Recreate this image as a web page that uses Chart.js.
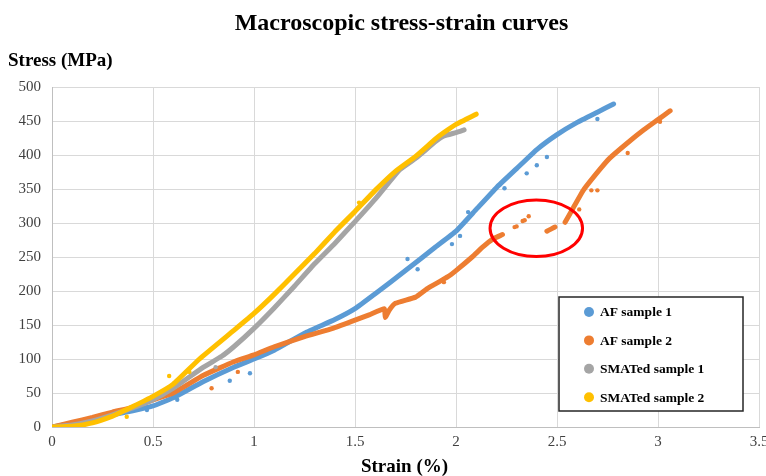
<!DOCTYPE html>
<html><head><meta charset="utf-8">
<script src="https://cdn.jsdelivr.net/npm/chart.js@4/dist/chart.umd.min.js"></script>
<style>html,body{margin:0;padding:0;background:#fff;}canvas{display:block;}</style>
</head><body>
<canvas id="c" width="766" height="476"></canvas>
<script>
// ---- data ----
const chartTitle = 'Macroscopic stress-strain curves';
const xTitle = 'Strain (%)';
const yTitle = 'Stress (MPa)';
const seriesNames = ['AF sample 1', 'AF sample 2', 'SMATed sample 1', 'SMATed sample 2'];
const seriesColors = ['#5B9BD5', '#ED7D31', '#A5A5A5', '#FFC000'];

const af1Strain = [0, 0.1, 0.2, 0.3, 0.4, 0.5, 0.6, 0.75, 0.9, 1.0, 1.1, 1.25, 1.4, 1.5, 1.6, 1.75, 1.9, 2.0, 2.1, 2.2, 2.3, 2.4, 2.5, 2.6, 2.7, 2.78];
const af1Stress = [0, 5, 11, 18, 24, 31, 43, 67, 88, 100, 113, 138, 158, 174, 196, 230, 265, 288, 320, 352, 380, 408, 430, 448, 463, 475];

const af2Strain = [0, 0.1, 0.2, 0.3, 0.4, 0.5, 0.6, 0.75, 0.9, 1.0, 1.1, 1.25, 1.39, 1.49, 1.57, 1.645, 1.65, 1.67, 1.7, 1.8, 1.86, 1.96, 2.0, 2.08, 2.13, 2.18, 2.23, null, 2.45, 2.47, 2.49, null, 2.54, 2.58, 2.63, 2.71, 2.76, 2.85, 2.93, 3.0, 3.06];
const af2Stress = [0, 7, 14, 22, 29, 40, 50, 76, 96, 106, 118, 133, 145, 156, 165, 174, 161, 172, 182, 191, 204, 221, 230, 250, 264, 276, 283, null, 288, 291, 294, null, 301, 322, 348, 378, 395, 418, 437, 452, 465];

const sm1Strain = [0, 0.1, 0.2, 0.3, 0.4, 0.5, 0.6, 0.75, 0.84, 0.9, 1.0, 1.1, 1.2, 1.3, 1.4, 1.5, 1.6, 1.72, 1.8, 1.9, 1.94, 2.0, 2.04];
const sm1Stress = [0, 3, 9, 18, 28, 40, 57, 88, 104, 118, 145, 175, 207, 240, 270, 302, 335, 378, 395, 420, 428, 433, 437];

const sm2Strain = [0, 0.1, 0.2, 0.3, 0.35, 0.4, 0.5, 0.6, 0.73, 0.9, 1.0, 1.1, 1.2, 1.3, 1.4, 1.5, 1.6, 1.7, 1.8, 1.9, 1.94, 2.0, 2.1];
const sm2Stress = [0, 1, 6, 16, 23, 30, 45, 63, 100, 142, 167, 195, 225, 255, 287, 317, 348, 376, 398, 424, 433, 445, 460];

// scattered points lying off the main curves
const af1OutStrain = [0.47, 0.62, 0.88, 0.98, 1.76, 1.81, 1.98, 2.02, 2.06, 2.24, 2.35, 2.40, 2.45, 2.70];
const af1OutStress = [25, 40, 68, 79, 247, 232, 269, 281, 316, 351, 373, 385, 397, 453];
const af2OutStrain = [0.79, 0.92, 1.94, 2.29, 2.30, 2.33, 2.34, 2.36, 2.61, 2.67, 2.70, 2.85, 3.01];
const af2OutStress = [57, 81, 213, 294, 295, 303, 304, 310, 320, 348, 348, 403, 449];
const sm1OutStrain = [0.81];
const sm1OutStress = [88];
const sm2OutStrain = [0.37, 0.58, 0.68, 1.52];
const sm2OutStress = [15, 75, 81, 330];

const xTicks = [0, 0.5, 1, 1.5, 2, 2.5, 3, 3.5];
const yTicks = [0, 50, 100, 150, 200, 250, 300, 350, 400, 450, 500];

// highlighted region (data units): centre strain, centre stress, half-width, half-height
const highlightCx = 2.3975, highlightCy = 292.2, highlightRx = 0.229, highlightRy = 41.6;

// ---- build ----
function pts(xs, ys) { return xs.map((x, i) => ({ x: x, y: ys[i] })); }
const mains = [[af1Strain, af1Stress], [af2Strain, af2Stress], [sm1Strain, sm1Stress], [sm2Strain, sm2Stress]];
const outs = [[af1OutStrain, af1OutStress], [af2OutStrain, af2OutStress], [sm1OutStrain, sm1OutStress], [sm2OutStrain, sm2OutStress]];

const datasets = [];
mains.forEach((m, i) => {
  datasets.push({
    label: seriesNames[i], data: pts(m[0], m[1]), showLine: true, spanGaps: false,
    borderColor: seriesColors[i], backgroundColor: seriesColors[i], borderWidth: 5,
    borderCapStyle: 'round', borderJoinStyle: 'round',
    tension: 0.12, pointRadius: 0, order: 8 - 2 * i, isMain: true
  });
  datasets.push({
    label: '_' + seriesNames[i], data: pts(outs[i][0], outs[i][1]), showLine: false,
    borderColor: seriesColors[i], backgroundColor: seriesColors[i], pointRadius: 2.2,
    pointBorderWidth: 0, order: 7 - 2 * i
  });
});

const FONT = "'Liberation Serif', 'Times New Roman', serif";

const decor = {
  id: 'decor',
  afterDatasetsDraw(chart) {
    const ctx = chart.ctx, xs = chart.scales.x, ys = chart.scales.y;
    const cx = xs.getPixelForValue(highlightCx), cy = ys.getPixelForValue(highlightCy);
    const rx = Math.abs(xs.getPixelForValue(highlightCx + highlightRx) - cx);
    const ry = Math.abs(ys.getPixelForValue(highlightCy + highlightRy) - cy);
    ctx.save();
    ctx.beginPath();
    ctx.ellipse(cx, cy, rx, ry, 0, 0, Math.PI * 2);
    ctx.strokeStyle = '#FF0000'; ctx.lineWidth = 3; ctx.stroke();
    ctx.restore();
  },
  afterDraw(chart) {
    const ctx = chart.ctx, ca = chart.chartArea;
    ctx.save();
    ctx.fillStyle = '#000';
    ctx.textBaseline = 'alphabetic';
    ctx.font = 'bold 24px ' + FONT;
    ctx.textAlign = 'center';
    ctx.fillText(chartTitle, (ca.left + ca.right) / 2 - 4, 30);
    ctx.font = 'bold 19px ' + FONT;
    ctx.textAlign = 'left';
    ctx.fillText(yTitle, 8, 66);
    ctx.textAlign = 'center';
    ctx.fillText(xTitle, (ca.left + ca.right) / 2 - 1, 472);
    const lx = 559, ly = 297, lw = 184, lh = 114;
    ctx.fillStyle = '#fff';
    ctx.fillRect(lx, ly, lw, lh);
    ctx.strokeStyle = '#262626'; ctx.lineWidth = 1.5;
    ctx.strokeRect(lx, ly, lw, lh);
    ctx.font = 'bold 13.5px ' + FONT;
    ctx.textAlign = 'left'; ctx.textBaseline = 'middle';
    const mainSets = chart.data.datasets.filter(d => d.isMain);
    mainSets.forEach((d, i) => {
      const yy = ly + 15 + i * 28.4;
      ctx.beginPath();
      ctx.arc(lx + 30, yy, 5, 0, Math.PI * 2);
      ctx.fillStyle = d.backgroundColor; ctx.fill();
      ctx.fillStyle = '#000';
      ctx.fillText(d.label, lx + 41, yy + 1);
    });
    ctx.restore();
  }
};

new Chart(document.getElementById('c'), {
  type: 'scatter',
  data: { datasets: datasets },
  options: {
    responsive: false, animation: false, devicePixelRatio: 1,
    layout: { padding: { top: 87, right: 7, bottom: 0, left: 0 } },
    plugins: { legend: { display: false }, title: { display: false }, tooltip: { enabled: false } },
    scales: {
      x: {
        type: 'linear', min: 0, max: 3.5,
        afterBuildTicks: s => { s.ticks = xTicks.map(v => ({ value: v })); },
        ticks: { font: { family: FONT, size: 15 }, color: '#404040', padding: 6, maxRotation: 0, autoSkip: false,
                 callback: v => String(v) },
        grid: { color: '#d9d9d9', lineWidth: 1, drawTicks: false },
        border: { color: '#bfbfbf' },
        afterFit: s => { s.height = 49; s.paddingLeft = 0; s.paddingRight = 0; }
      },
      y: {
        type: 'linear', min: 0, max: 500,
        afterBuildTicks: s => { s.ticks = yTicks.map(v => ({ value: v })); },
        ticks: { font: { family: FONT, size: 15 }, color: '#404040', padding: 11, autoSkip: false,
                 callback: v => String(v) },
        grid: { color: '#d9d9d9', lineWidth: 1, drawTicks: false },
        border: { color: '#bfbfbf' },
        afterFit: s => { s.width = 52; s.paddingTop = 0; s.paddingBottom = 0; }
      }
    }
  },
  plugins: [decor]
});
</script>
</body></html>
